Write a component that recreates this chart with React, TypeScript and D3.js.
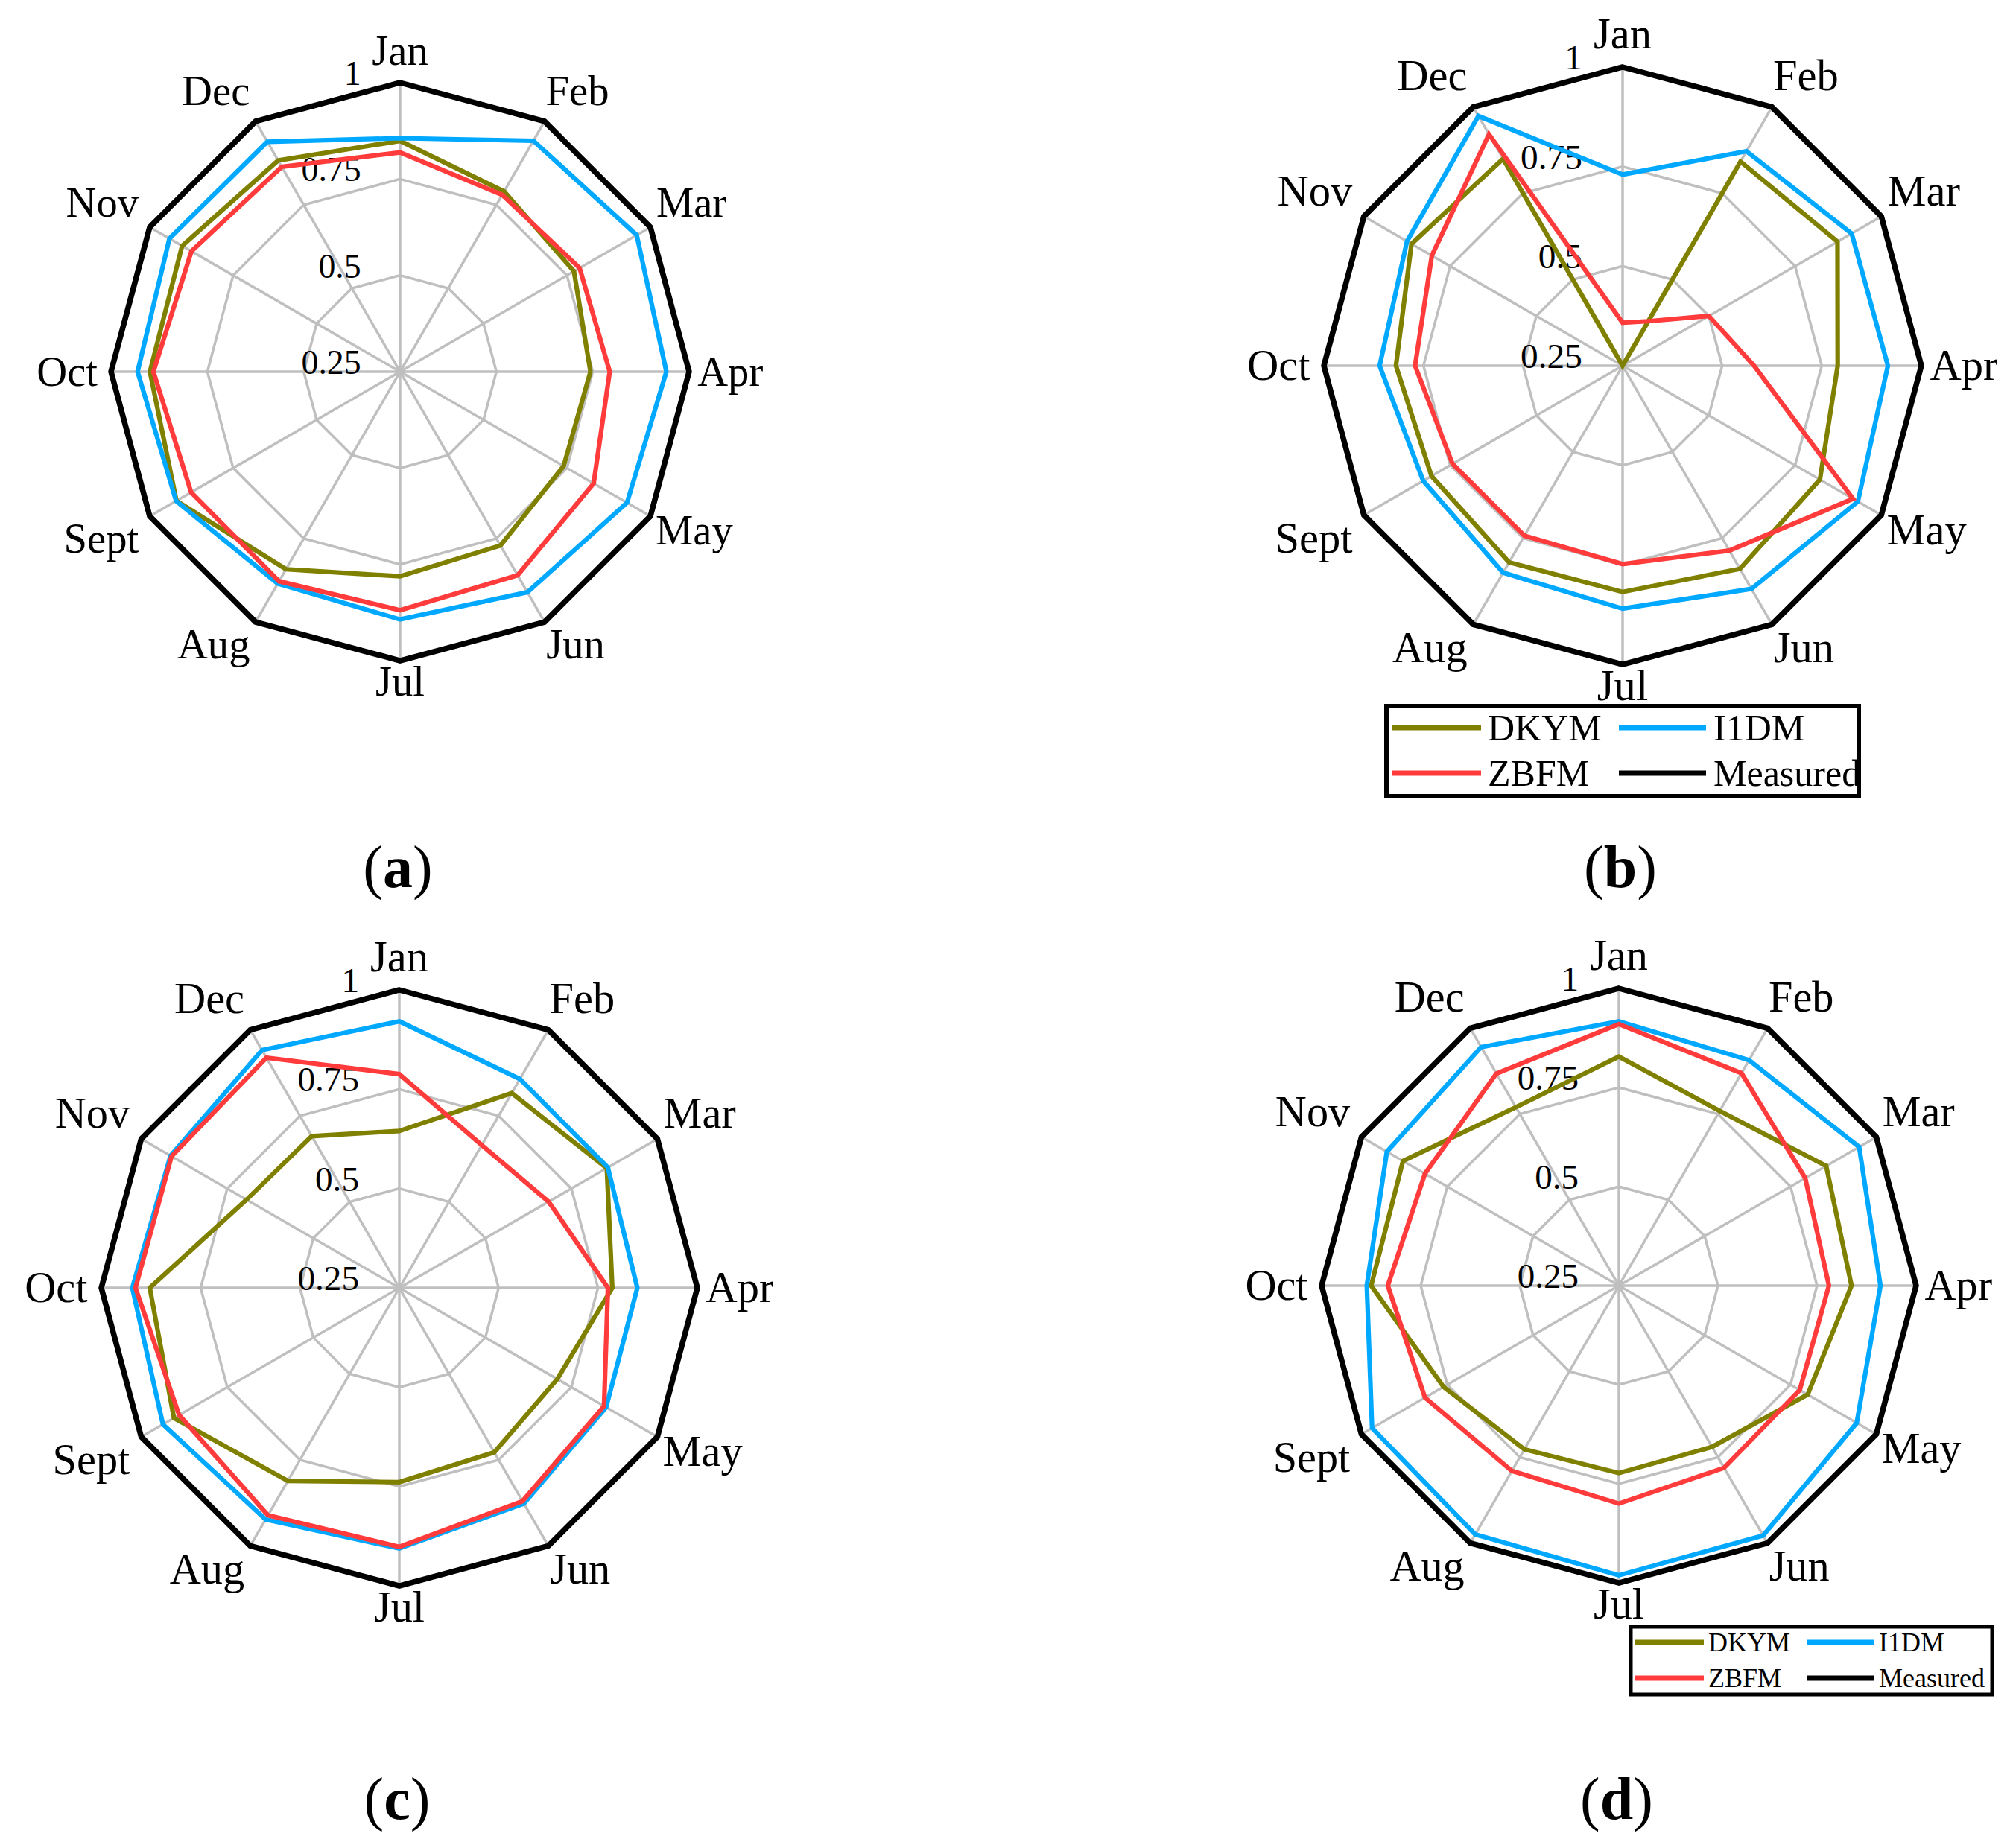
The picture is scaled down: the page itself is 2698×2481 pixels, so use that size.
import React, { useEffect, useRef } from 'react';
import * as d3 from 'd3';

const MONTHS = ['Jan', 'Feb', 'Mar', 'Apr', 'May', 'Jun', 'Jul', 'Aug', 'Sept', 'Oct', 'Nov', 'Dec'];
const TICKS = [0.25, 0.5, 0.75, 1];
const TICK_LABELS = ['0.25', '0.5', '0.75', '1'];
const SERIES = ['DKYM', 'I1DM', 'ZBFM', 'Measured'];
const COLORS: Record<string, string> = {
  DKYM: '#808000',
  I1DM: '#00A8FF',
  ZBFM: '#FF3B3B',
  Measured: '#000000',
};

// panel (a)
const dkymA = [0.849, 0.79, 0.771, 0.744, 0.74, 0.771, 0.781, 0.842, 0.92, 0.899, 0.903, 0.883];
const i1dmA = [0.856, 0.942, 0.959, 0.941, 0.93, 0.911, 0.893, 0.885, 0.921, 0.931, 0.941, 0.939];
const zbfmA = [0.819, 0.78, 0.788, 0.794, 0.83, 0.86, 0.869, 0.878, 0.876, 0.89, 0.875, 0.864];
// panel (b)
const dkymB = [0.25, 0.842, 0.873, 0.79, 0.822, 0.839, 0.818, 0.82, 0.804, 0.819, 0.862, 0.85];
const i1dmB = [0.73, 0.872, 0.914, 0.916, 0.932, 0.897, 0.86, 0.85, 0.828, 0.86, 0.875, 0.974];
const zbfmB = [0.358, 0.379, 0.5, 0.58, 0.918, 0.786, 0.748, 0.743, 0.743, 0.771, 0.803, 0.921];
// panel (c)
const dkymC = [0.645, 0.816, 0.853, 0.786, 0.709, 0.728, 0.739, 0.811, 0.905, 0.878, 0.694, 0.691];
const i1dmC = [0.921, 0.857, 0.856, 0.849, 0.851, 0.877, 0.906, 0.923, 0.937, 0.922, 0.915, 0.941];
const zbfmC = [0.788, 0.665, 0.684, 0.775, 0.845, 0.87, 0.902, 0.911, 0.89, 0.914, 0.912, 0.919];
// panel (d)
const dkymD = [0.828, 0.759, 0.854, 0.837, 0.8, 0.72, 0.723, 0.727, 0.761, 0.875, 0.879, 0.77];
const i1dmD = [0.917, 0.907, 0.95, 0.91, 0.943, 0.978, 0.981, 0.975, 0.969, 0.886, 0.926, 0.945];
const zbfmD = [0.91, 0.869, 0.793, 0.78, 0.777, 0.781, 0.8, 0.79, 0.815, 0.833, 0.815, 0.868];
// measured is the reference (normalised to 1)
const measured = [1, 1, 1, 1, 1, 1, 1, 1, 1, 1, 1, 1];

const FONT = '"Liberation Serif", "Times New Roman", serif';

interface Panel {
  tag: string;
  cx: number;
  cy: number;
  R: number;
  tagY: number;
  series: Record<string, number[]>;
  legend?: { x0: number; y0: number; x1: number; y1: number; fs: number; stroke: number; rows: number[]; cols: number[][] };
}

const PANELS: Panel[] = [
  { tag: 'a', cx: 537, cy: 499, R: 388, tagY: 1191, series: { DKYM: dkymA, I1DM: i1dmA, ZBFM: zbfmA, Measured: measured } },
  {
    tag: 'b', cx: 2178, cy: 491, R: 401, tagY: 1191, series: { DKYM: dkymB, I1DM: i1dmB, ZBFM: zbfmB, Measured: measured },
    legend: { x0: 1861, y0: 948, x1: 2495, y1: 1069, fs: 50, stroke: 6, rows: [977, 1038], cols: [[1869, 1988, 1997], [2173, 2290, 2300]] },
  },
  { tag: 'c', cx: 536, cy: 1729, R: 400, tagY: 2442, series: { DKYM: dkymC, I1DM: i1dmC, ZBFM: zbfmC, Measured: measured } },
  {
    tag: 'd', cx: 2173, cy: 1726, R: 399, tagY: 2442, series: { DKYM: dkymD, I1DM: i1dmD, ZBFM: zbfmD, Measured: measured },
    legend: { x0: 2189, y0: 2184, x1: 2674, y1: 2275, fs: 36, stroke: 5, rows: [2205, 2253], cols: [[2195, 2287, 2293], [2425, 2515, 2522]] },
  },
];

function drawRadar(svg: d3.Selection<SVGSVGElement, unknown, null, undefined>, p: Panel) {
  const g = svg.append('g').attr('transform', `translate(${p.cx},${p.cy})`);
  const r = d3.scaleLinear().domain([0.25, 1]).range([0, p.R]).clamp(true);
  const ang = d3.scaleLinear().domain([0, MONTHS.length]).range([0, 2 * Math.PI]);
  const k = p.R / 388;

  const radial = d3
    .lineRadial<number>()
    .angle((_, i) => ang(i))
    .radius(d => r(d))
    .curve(d3.curveLinearClosed);

  // rings
  TICKS.slice(1).forEach(t => {
    g.append('path')
      .attr('d', radial(MONTHS.map(() => t)))
      .style('fill', 'none')
      .style('stroke', '#BFBFBF')
      .style('stroke-width', 3.5);
  });

  // spokes
  g.selectAll('.spoke')
    .data(MONTHS)
    .enter()
    .append('line')
    .attr('x1', 0)
    .attr('y1', 0)
    .attr('x2', (_, i) => Math.sin(ang(i)) * r(1))
    .attr('y2', (_, i) => -Math.cos(ang(i)) * r(1))
    .style('stroke', '#BFBFBF')
    .style('stroke-width', 3.5);

  // tick labels
  const tfs = p.R * 0.118;
  g.selectAll('.tick')
    .data(TICKS)
    .enter()
    .append('text')
    .attr('x', -p.R * 0.135)
    .attr('y', d => -r(d) + 3)
    .attr('text-anchor', 'end')
    .style('font-family', FONT)
    .style('font-size', `${tfs}px`)
    .style('fill', '#000')
    .text((_, i) => TICK_LABELS[i]);

  // series
  const order = ['DKYM', 'I1DM', 'ZBFM', 'Measured'];
  order.forEach(name => {
    g.append('path')
      .attr('d', radial(p.series[name]))
      .style('fill', 'none')
      .style('stroke', COLORS[name])
      .style('stroke-width', name === 'Measured' ? 7.5 : 6.2)
      .style('stroke-linejoin', 'miter');
  });

  // month labels
  const fs = p.R * 0.146;
  const gap = 20 * k;
  MONTHS.forEach((m, i) => {
    const a = ang(i);
    const s = Math.sin(a);
    const c = Math.cos(a);
    const t = g.append('text')
      .attr('text-anchor', 'middle')
      .style('font-family', FONT)
      .style('font-size', `${fs}px`)
      .style('fill', '#000')
      .text(m);
    const w = (t.node() as SVGTextElement).getComputedTextLength();
    const hh = fs * 0.331;
    let x = s * (p.R + gap);
    let y = -c * (p.R + gap);
    if (s > 0.1) x += 0.8 * w / 2;
    if (s < -0.1) x -= 0.95 * w / 2;
    if (c > 0.1) y -= 23 * k;
    if (c < -0.1) {
      if (c < -0.95) y += 8 * k;
      else if (c < -0.8) y += 13 * k;
      else y += (s < 0 ? 20 : 9) * k;
    }
    t.attr('x', x).attr('y', y + hh);
  });

  // panel tag
  const tag = svg.append('text')
    .attr('x', p.cx - 3)
    .attr('y', p.tagY)
    .attr('text-anchor', 'middle')
    .style('font-family', FONT)
    .style('font-size', '80px')
    .style('fill', '#000');
  tag.append('tspan').text('(');
  tag.append('tspan').style('font-weight', 'bold').text(p.tag);
  tag.append('tspan').text(')');

  // legend
  if (p.legend) {
    const L = p.legend;
    const clipId = `legclip-${p.tag}`;
    svg.append('clipPath')
      .attr('id', clipId)
      .append('rect')
      .attr('x', L.x0)
      .attr('y', L.y0)
      .attr('width', L.x1 - L.x0)
      .attr('height', L.y1 - L.y0);
    const lg = svg.append('g');
    lg.append('rect')
      .attr('x', L.x0)
      .attr('y', L.y0)
      .attr('width', L.x1 - L.x0)
      .attr('height', L.y1 - L.y0)
      .style('fill', '#fff');
    const inner = lg.append('g').attr('clip-path', `url(#${clipId})`);
    SERIES.forEach((name, j) => {
      const row = L.rows[Math.floor(j / 2)];
      const col = L.cols[j % 2];
      inner.append('line')
        .attr('x1', col[0])
        .attr('x2', col[1])
        .attr('y1', row)
        .attr('y2', row)
        .style('stroke', COLORS[name])
        .style('stroke-width', 7);
      inner.append('text')
        .attr('x', col[2])
        .attr('y', row + L.fs * 0.331)
        .style('font-family', FONT)
        .style('font-size', `${L.fs}px`)
        .style('fill', '#000')
        .text(name);
    });
    lg.append('rect')
      .attr('x', L.x0)
      .attr('y', L.y0)
      .attr('width', L.x1 - L.x0)
      .attr('height', L.y1 - L.y0)
      .style('fill', 'none')
      .style('stroke', '#000')
      .style('stroke-width', L.stroke);
  }
}

export default function App() {
  const svgRef = useRef<SVGSVGElement>(null);

  useEffect(() => {
    const svg = d3.select(svgRef.current as SVGSVGElement);
    svg.selectAll('*').remove();
    svg.append('rect').attr('width', 2698).attr('height', 2481).style('fill', '#fff');
    PANELS.forEach(p => drawRadar(svg, p));
  }, []);

  return (
    <svg
      ref={svgRef}
      width={2698}
      height={2481}
      style={{ position: 'absolute', left: 0, top: 0, background: '#fff' }}
    />
  );
}
